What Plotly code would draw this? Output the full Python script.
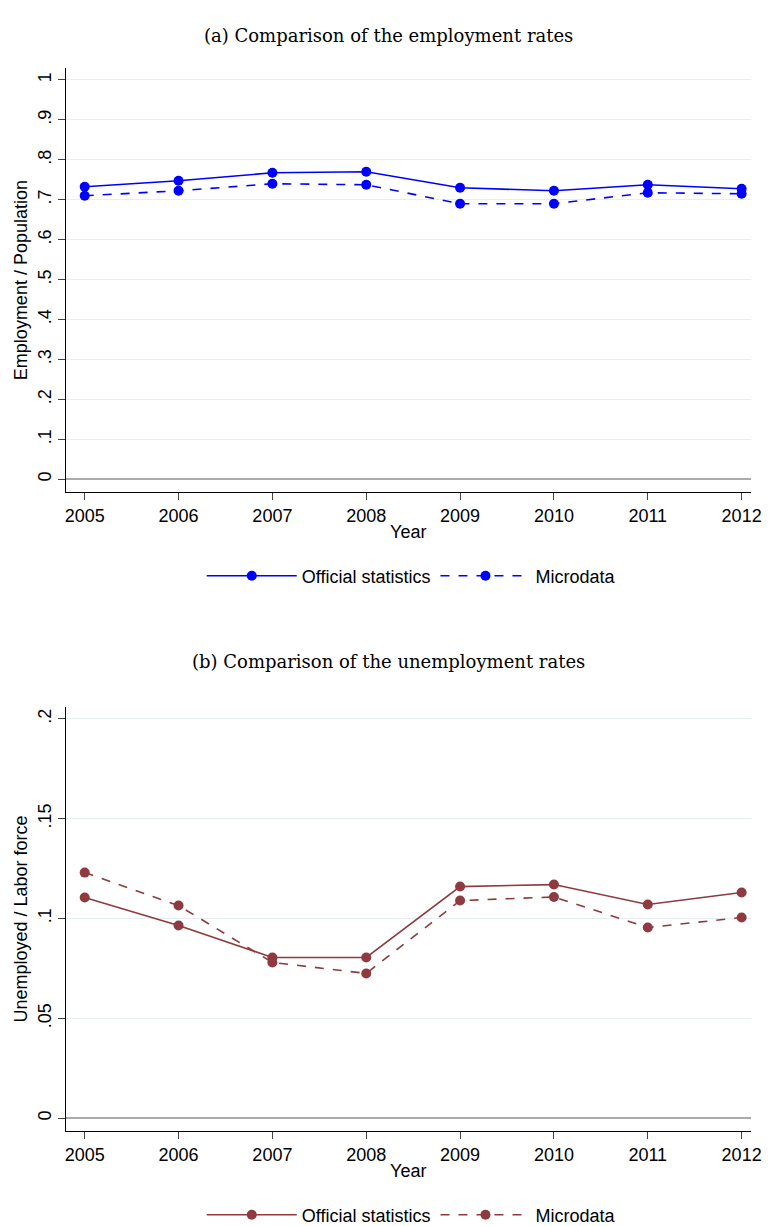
import plotly.graph_objects as go

years = [2005, 2006, 2007, 2008, 2009, 2010, 2011, 2012]
emp_official = [0.7325, 0.7475, 0.7675, 0.77, 0.73, 0.7225, 0.7375, 0.7275]
emp_micro = [0.71, 0.7225, 0.74, 0.7375, 0.69, 0.69, 0.7175, 0.715]
unemp_official = [0.1105, 0.0965, 0.0805, 0.0805, 0.116, 0.117, 0.107, 0.113]
unemp_micro = [0.123, 0.1065, 0.078, 0.0725, 0.109, 0.1108, 0.0955, 0.1005]

blue = "#0000ff"
red = "#8f3a3f"
font = dict(family="Liberation Sans, Arial", size=18, color="black")

fig = go.Figure()
for y, dash, name in [(emp_official, "solid", "Official statistics"), (emp_micro, "dash", "Microdata")]:
    fig.add_trace(go.Scatter(x=years, y=y, name=name, mode="lines+markers",
                             line=dict(color=blue, width=1.6, dash=dash),
                             marker=dict(size=10, color=blue),
                             xaxis="x", yaxis="y", legend="legend"))
for y, dash, name in [(unemp_official, "solid", "Official statistics"), (unemp_micro, "dash", "Microdata")]:
    fig.add_trace(go.Scatter(x=years, y=y, name=name, mode="lines+markers",
                             line=dict(color=red, width=1.6, dash=dash),
                             marker=dict(size=10, color=red),
                             xaxis="x2", yaxis="y2", legend="legend2"))

xcommon = dict(range=[2004.8, 2012.095], tickvals=years, showline=True, linecolor="black",
               ticks="outside", ticklen=7, showgrid=False, zeroline=False,
               tickfont=font, title=dict(text="Year", font=font, standoff=0))
ycommon = dict(showline=True, linecolor="black", ticks="outside", ticklen=7, tickangle=-90,
               gridcolor="#e6eef0", zeroline=True, zerolinecolor="#aaaaaa", zerolinewidth=1.5,
               tickfont=font)

fig.update_layout(
    width=771, height=1226, plot_bgcolor="white", paper_bgcolor="white",
    margin=dict(l=0, r=0, t=0, b=0),
    xaxis=dict(domain=[0.075, 0.977], anchor="y", **xcommon),
    yaxis=dict(domain=[0.6044, 0.951], anchor="x", range=[-0.0325, 1.03],
               tickvals=[i / 10 for i in range(11)],
               ticktext=["0", ".1", ".2", ".3", ".4", ".5", ".6", ".7", ".8", ".9", "1"],
               title=dict(text="Employment / Population", font=font, standoff=2), **ycommon),
    xaxis2=dict(domain=[0.075, 0.977], anchor="y2", **xcommon),
    yaxis2=dict(domain=[0.0824, 0.429], anchor="x2", range=[-0.0065, 0.206],
                tickvals=[0, 0.05, 0.1, 0.15, 0.2], ticktext=["0", ".05", ".1", ".15", ".2"],
                title=dict(text="Unemployed / Labor force", font=font, standoff=2), **ycommon),
    legend=dict(orientation="h", x=0.53, y=1 - 569 / 1226, xanchor="center", yanchor="middle",
                font=font, itemwidth=90),
    legend2=dict(orientation="h", x=0.53, y=1 - 1209 / 1226, xanchor="center", yanchor="middle",
                 font=font, itemwidth=90),
    annotations=[
        dict(text="(a) Comparison of the employment rates", x=0.5, y=1 - 15 / 1226, xref="paper",
             yref="paper", showarrow=False, font=dict(family="DejaVu Serif", size=18, color="black")),
        dict(text="(b) Comparison of the unemployment rates", x=0.5, y=1 - 655 / 1226, xref="paper",
             yref="paper", showarrow=False, font=dict(family="DejaVu Serif", size=18, color="black")),
    ],
)
fig.write_html("out.html")
